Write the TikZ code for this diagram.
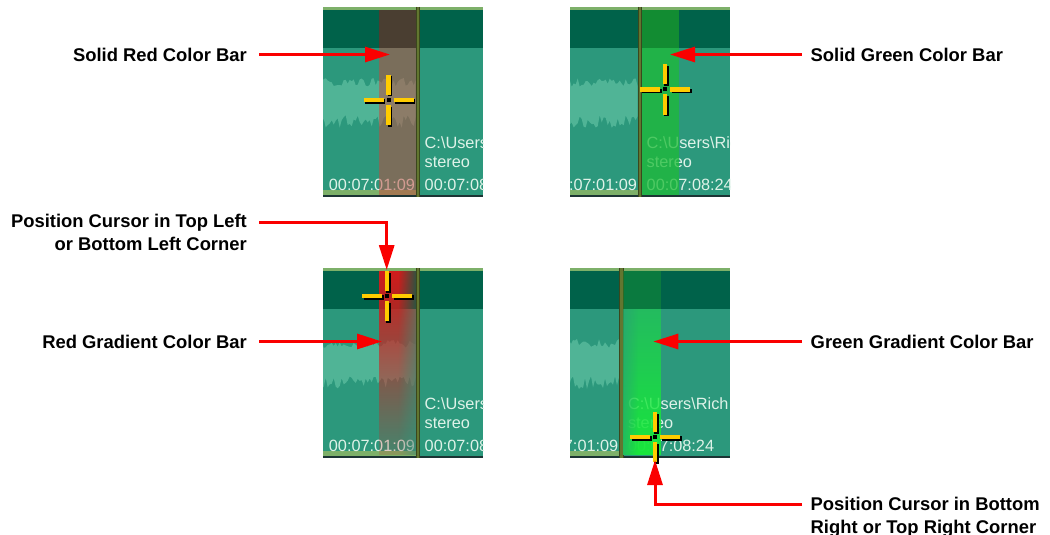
\documentclass[tikz,border=0pt]{standalone}
\usepackage{fontspec}
\setmainfont{Liberation Sans}
\usepackage{tikz}
\usetikzlibrary{arrows.meta,positioning,calc,fadings}
\definecolor{calloutred}{RGB}{250,0,0}
\definecolor{trackstrip}{RGB}{125,176,105}
\definecolor{trackhead}{RGB}{0,98,74}
\definecolor{trackbody}{RGB}{44,152,124}
\definecolor{trackwave}{RGB}{80,180,150}
\definecolor{trackedge}{RGB}{28,52,52}
\definecolor{trackdiv}{RGB}{98,118,48}
\definecolor{tracktext}{RGB}{222,242,232}
\definecolor{barred}{RGB}{200,70,60}
\definecolor{bargreen}{RGB}{30,188,55}
\definecolor{gradred}{RGB}{210,28,28}
\definecolor{gradgreen}{RGB}{25,230,60}
\definecolor{cursoryellow}{RGB}{255,204,0}
\tikzfading[name=redfade, top color=transparent!0, middle color=transparent!20, bottom color=transparent!85]
\tikzfading[name=greenfade, top color=transparent!55, middle color=transparent!20, bottom color=transparent!0]

% one cropped timeline view: left x, top y, divider x, name
\newcommand{\trackpanel}[4]{%
  \begin{scope}
    \clip (#1,#2) rectangle +(160,190);
    \fill[trackhead] (#1,#2) rectangle +(160,41);
    \fill[trackbody] (#1,#2+41) rectangle +(160,149);
    \fill[trackstrip] (#1,#2) rectangle +(160,3);
    \fill[trackwave] plot[variable=\t, domain=#3-96:#3, samples=49] (\t,{#2+80-9*rnd})
      -- plot[variable=\t, domain=#3:#3-96, samples=49] (\t,{#2+108+13*rnd}) -- cycle;
    \fill[trackstrip] (#1,#2+183) rectangle (#3,#2+187.5);
    \fill[trackedge] (#1,#2+187.5) rectangle +(160,2.5);
    \fill[trackdiv] (#3,#2) rectangle +(4.3,190);
    \draw[trackdiv!60!black, line width=0.8pt] (#3+0.4,#2) -- +(0,190) (#3+3.9,#2) -- +(0,190);
    \node[tracklbl] (#4-left) at (#3-87,#2+183.5) {00:07:01:09};
    \node[tracklbl] (#4-path) at (#3+8.8,#2+141.5) {C:\textbackslash Users\textbackslash Rich};
    \node[tracklbl] (#4-mode) at (#3+8.8,#2+160.5) {stereo};
    \node[tracklbl] (#4-time) at (#3+8.8,#2+183.5) {00:07:08:24};
  \end{scope}
}

\begin{document}
\begin{tikzpicture}[x=1pt, y=-1pt,
    lbl/.style={font=\fontsize{18.4}{23}\selectfont\bfseries, inner sep=0pt},
    tracklbl/.style={font=\fontsize{16.3}{19}\selectfont, text=tracktext, inner sep=0pt, anchor=base west},
    callout/.style={calloutred, line width=3pt, -{Triangle[length=25pt, width=15pt]}},
    cursorarm/.style={line width=4.5pt},
    xcursor/.pic={
      \begin{scope}[shift={(1.5,1.5)}]
        \foreach \r in {0,90,180,270} \draw[cursorarm, black, rotate=\r] (5,0) -- (25,0);
      \end{scope}
      \foreach \r in {0,90,180,270} \draw[cursorarm, cursoryellow, rotate=\r] (5,0) -- (25,0);
      \fill[black] (-2,-2) rectangle (2,2);
    }]
  \useasboundingbox (0,0) rectangle (1050,535);
  \pgfmathsetseed{7}

  % the four views
  \trackpanel{323}{7}{415.7}{sr}
  \trackpanel{570}{7}{637.7}{sg}
  \trackpanel{323}{268}{415.7}{gr}
  \trackpanel{570}{268}{619}{gg}

  % solid bars
  \fill[barred, opacity=0.5] (379.3,10) rectangle (415.7,194.5);
  \fill[black, opacity=0.25] (379.3,10) rectangle (415.7,48);
  \fill[bargreen, opacity=0.75] (642.3,10) rectangle (679,194.5);
  \fill[black, opacity=0.15] (642.3,10) rectangle (679,48);

  % gradient bars
  \fill[gradred, path fading=redfade] (379.3,271) rectangle (415.7,455);
  \fill[trackhead, path fading=west, fill opacity=0.75] (398,271) rectangle (415.7,309);
  \fill[trackbody, path fading=west, fill opacity=0.5] (398,309) rectangle (415.7,455);
  \fill[bargreen!85!black, opacity=0.4] (623.3,271) rectangle (660.7,309);
  \fill[gradgreen, path fading=greenfade] (623.3,309) rectangle (660.7,455);
  \fill[trackbody, path fading=east, fill opacity=0.5] (623.3,309) rectangle (638,455);

  % cursors
  \pic (srcur) at (388.5,100) {xcursor};
  \pic (sgcur) at (665,89.5) {xcursor};
  \pic (grcur) at (387,296) {xcursor};
  \pic (ggcur) at (655,437) {xcursor};

  % labels and callouts
  \node[lbl, anchor=east] (solidred) at (247,54.5) {Solid Red Color Bar};
  \coordinate (solidredtip) at (390,54.5);
  \draw[callout] ([xshift=12pt]solidred.east) -- (solidredtip);

  \node[lbl, anchor=west] (solidgreen) at (810.5,54.5) {Solid Green Color Bar};
  \coordinate (solidgreentip) at (670,54.5);
  \draw[callout] ([xshift=-9pt]solidgreen.west) -- (solidgreentip);

  \node[lbl, align=right, anchor=north east] (topleft) at (247,214) {Position Cursor in Top Left\\or Bottom Left Corner};
  \coordinate (toplefttip) at (386.7,270);
  \draw[callout] ([shift={(12,8.5)}]topleft.north east) -| (toplefttip);

  \node[lbl, anchor=east] (redgrad) at (247,341.5) {Red Gradient Color Bar};
  \coordinate (redgradtip) at (382,341.5);
  \draw[callout] ([xshift=12pt]redgrad.east) -- (redgradtip);

  \node[lbl, anchor=west] (greengrad) at (810.5,341.5) {Green Gradient Color Bar};
  \coordinate (greengradtip) at (653.3,341.5);
  \draw[callout] ([xshift=-8.5pt]greengrad.west) -- (greengradtip);

  \node[lbl, align=left, anchor=north west] (botright) at (810.5,496.5) {Position Cursor in Bottom\\Right or Top Right Corner};
  \coordinate (botrighttip) at (655,460);
  \draw[callout] ([shift={(-8.5,8)}]botright.north west) -| (botrighttip);
\end{tikzpicture}
\end{document}
